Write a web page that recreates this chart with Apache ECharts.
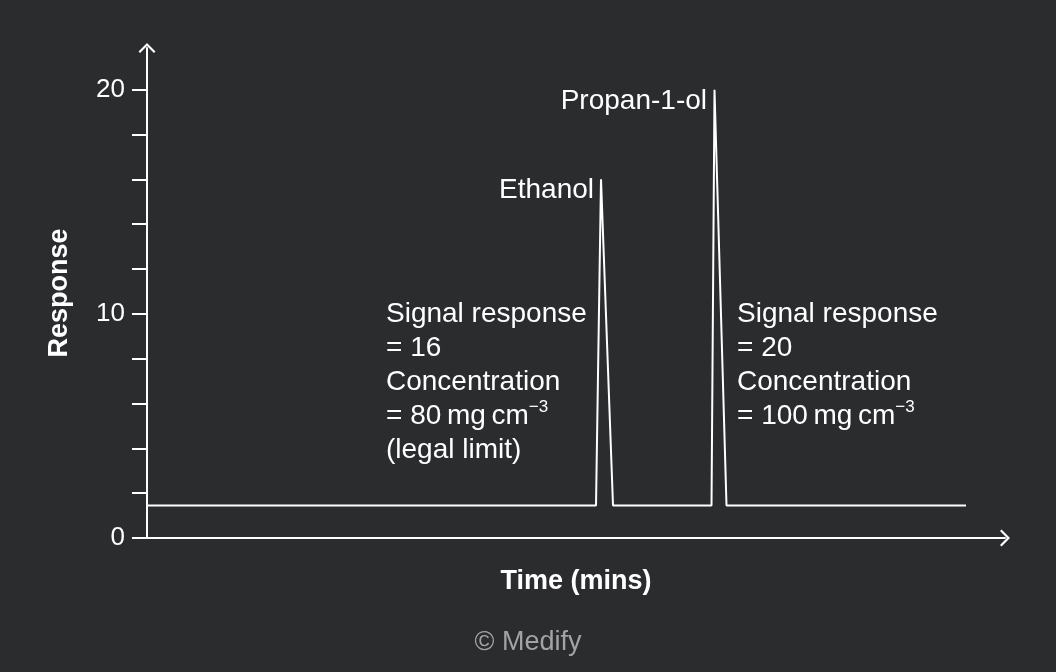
<!DOCTYPE html>
<html>
<head>
<meta charset="utf-8">
<script src="https://cdn.jsdelivr.net/npm/echarts@6/dist/echarts.min.js"></script>
<style>
  html, body { margin: 0; padding: 0; background: #2b2c2e; }
  #chart { width: 1056px; height: 672px; }
</style>
</head>
<body>
<div id="chart"></div>
<script>
// chromatogram trace: time (arbitrary units) vs detector response
const TIME = [0, 44.9, 45.4, 46.6, 56.45, 56.75, 57.95, 81.9];
const RESPONSE = [1.45, 1.45, 16, 1.45, 1.45, 20, 1.45, 1.45];

const Y_TICKS = [0, 2, 4, 6, 8, 10, 12, 14, 16, 18, 20];
const Y_LABELS = [0, 10, 20];

const PEAK_LABELS = [
  { name: 'Ethanol', x: 44.7, y: 15.5 },
  { name: 'Propan-1-ol', x: 56.0, y: 19.5 }
];

const NOTES = [
  { x: 23.9, y: 10.75, lines: ['Signal response', '= 16', 'Concentration', '= 80\u2009mg\u2009cm{sup|\u22123}', '(legal limit)'] },
  { x: 59.0, y: 10.75, lines: ['Signal response', '= 20', 'Concentration', '= 100\u2009mg\u2009cm{sup|\u22123}'] }
];

const FONT = '"Liberation Sans", Arial, sans-serif';
const WHITE = '#ffffff';
const CHEVRON = 'path://M0,10 L10,0 L20,10 L18.2,11.8 L10,3.6 L1.8,11.8 Z';

const chart = echarts.init(document.getElementById('chart'), null, { renderer: 'canvas' });

chart.setOption({
  backgroundColor: '#2b2c2e',
  animation: false,
  title: {
    text: '\u00a9 Medify',
    left: 'center',
    top: 624,
    textStyle: { color: '#a3a3a3', fontFamily: FONT, fontSize: 27, fontWeight: 'normal' }
  },
  grid: { left: 147, right: 51, top: 48, bottom: 134 },
  xAxis: {
    type: 'value',
    min: 0,
    max: 85.8,
    name: 'Time (mins)',
    nameLocation: 'middle',
    nameGap: 30,
    nameTextStyle: { color: WHITE, fontFamily: FONT, fontSize: 27, fontWeight: 'bold' },
    axisLine: {
      lineStyle: { color: WHITE, width: 2 },
      symbol: ['none', CHEVRON],
      symbolSize: [17, 10]
    },
    axisTick: { show: false },
    axisLabel: { show: false },
    splitLine: { show: false }
  },
  yAxis: {
    type: 'value',
    min: 0,
    max: 21.86,
    name: 'Response',
    nameLocation: 'middle',
    nameGap: 74,
    nameTextStyle: { color: WHITE, fontFamily: FONT, fontSize: 27, fontWeight: 'bold' },
    axisLine: {
      show: true,
      lineStyle: { color: WHITE, width: 2 },
      symbol: ['none', CHEVRON],
      symbolSize: [17, 10]
    },
    axisTick: {
      show: true,
      customValues: Y_TICKS,
      length: 15,
      lineStyle: { color: WHITE, width: 2 }
    },
    axisLabel: {
      customValues: Y_LABELS,
      margin: 22,
      color: WHITE,
      fontFamily: FONT,
      fontSize: 26
    },
    splitLine: { show: false }
  },
  series: [
    {
      type: 'line',
      data: TIME.map((t, i) => [t, RESPONSE[i]]),
      symbol: 'none',
      lineStyle: { color: WHITE, width: 2 }
    },
    {
      type: 'scatter',
      symbolSize: 0,
      itemStyle: { opacity: 1 },
      data: PEAK_LABELS.map((p) => ({ value: [p.x, p.y], name: p.name })),
      label: {
        show: true,
        position: 'inside',
        align: 'right',
        verticalAlign: 'middle',
        formatter: (p) => p.name,
        color: WHITE,
        opacity: 1,
        fontFamily: FONT,
        fontSize: 28
      }
    },
    {
      type: 'scatter',
      symbolSize: 0,
      itemStyle: { opacity: 1 },
      data: NOTES.map((n) => ({ value: [n.x, n.y], text: n.lines.join('\n') })),
      label: {
        show: true,
        position: 'inside',
        align: 'left',
        verticalAlign: 'top',
        formatter: (p) => p.data.text,
        color: WHITE,
        opacity: 1,
        fontFamily: FONT,
        fontSize: 28,
        lineHeight: 34,
        rich: {
          sup: { color: WHITE, fontFamily: FONT, fontSize: 17, verticalAlign: 'top', lineHeight: 34, padding: [0, 0, 14, 0] }
        }
      }
    }
  ]
});

window.addEventListener('resize', () => chart.resize());
</script>
</body>
</html>
